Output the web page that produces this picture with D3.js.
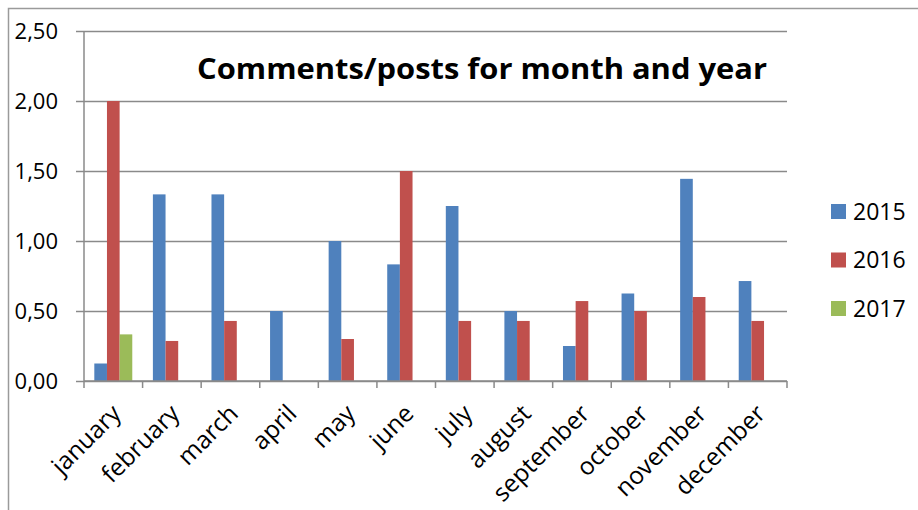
<!DOCTYPE html>
<html>
<head>
    <meta charset="utf-8">
    <style>
        body { margin: 0; background: #fff; }
        svg text { font-family: "Open Sans", "Liberation Sans", sans-serif; fill: #000; }
    </style>
    <script src="https://cdn.jsdelivr.net/npm/d3@7"></script>
</head>
<body>
<svg width="918" height="510"></svg>
<script>
    // chart data
    const months = ["january", "february", "march", "april", "may", "june",
        "july", "august", "september", "october", "november", "december"];
    const years = ["2015", "2016", "2017"];
    const values2015 = [0.125, 1.333, 1.333, 0.5, 1.0, 0.833, 1.25, 0.5, 0.25, 0.625, 1.444, 0.714];
    const values2016 = [2.0, 0.286, 0.429, 0, 0.3, 1.5, 0.429, 0.429, 0.571, 0.5, 0.6, 0.429];
    const values2017 = [0.333, 0, 0, 0, 0, 0, 0, 0, 0, 0, 0, 0];
    const yTicks = [0, 0.5, 1, 1.5, 2, 2.5];
    const colors = ["#4F81BD", "#C0504D", "#9BBB59"];
    const title = "Comments/posts for month and year";

    const series = [values2015, values2016, values2017];

    let svg = d3.select("svg");
    const plotLeft = 84, plotRight = 787, plotTop = 31, plotBottom = 381;
    const gridColor = "#8a8a8a";

    // outer chart border (left and top only visible)
    svg.append("path")
        .attr("d", "M8.5,510V8.5H918")
        .attr("fill", "none")
        .attr("stroke", "#9a9a9a")
        .attr("stroke-width", 1.5);

    let x0 = d3.scaleBand().domain(months).range([plotLeft, plotRight]).padding(0);
    let bw = x0.bandwidth();
    let inner = bw * 0.176;
    let x1 = d3.scaleBand().domain(years).range([inner, bw - inner]).padding(0);
    let y = d3.scaleLinear().domain([0, 2.5]).range([plotBottom, plotTop]);

    // gridlines + y labels
    let yAxis = d3.axisLeft(y)
        .tickValues(yTicks)
        .tickSize(-(plotRight - plotLeft + 8))
        .tickPadding(18)
        .tickFormat(d => d3.format(".2f")(d).replace(".", ","));

    let gy = svg.append("g")
        .attr("transform", "translate(" + (plotLeft - 8) + ",0)")
        .call(yAxis);
    gy.select(".domain").remove();
    gy.selectAll(".tick line").attr("stroke", gridColor).attr("stroke-width", 1.5);
    gy.selectAll(".tick text").attr("font-size", 22).attr("fill", "#000");

    // y axis line
    svg.append("line")
        .attr("x1", plotLeft).attr("x2", plotLeft)
        .attr("y1", plotTop).attr("y2", plotBottom)
        .attr("stroke", gridColor).attr("stroke-width", 1.5);

    // bars
    let groups = svg.append("g").selectAll("g")
        .data(months)
        .enter().append("g")
        .attr("transform", d => "translate(" + x0(d) + ",0)");

    groups.selectAll("rect")
        .data((m, i) => series.map((s, j) => ({year: years[j], value: s[i], color: colors[j]})))
        .enter().append("rect")
        .attr("x", d => x1(d.year))
        .attr("width", x1.bandwidth())
        .attr("y", d => y(d.value))
        .attr("height", d => plotBottom - y(d.value))
        .attr("fill", d => d.color);

    // x axis with ticks at category boundaries
    svg.append("line")
        .attr("x1", plotLeft).attr("x2", plotRight)
        .attr("y1", plotBottom).attr("y2", plotBottom)
        .attr("stroke", gridColor).attr("stroke-width", 1.5);

    let boundaries = months.map(m => x0(m)).concat([plotRight]);
    svg.append("g").selectAll("line")
        .data(boundaries)
        .enter().append("line")
        .attr("x1", d => d).attr("x2", d => d)
        .attr("y1", plotBottom).attr("y2", plotBottom + 7)
        .attr("stroke", gridColor).attr("stroke-width", 1.5);

    svg.append("g").selectAll("text")
        .data(months)
        .enter().append("text")
        .attr("transform", d => "translate(" + (x0(d) + bw / 2 + 3) + "," + (plotBottom + 28) + ") rotate(-45)")
        .attr("text-anchor", "end")
        .attr("dy", "0.35em")
        .attr("font-size", 24.5)
        .text(d => d);

    // title
    svg.append("text")
        .attr("x", 197)
        .attr("y", 79)
        .attr("font-size", 29)
        .attr("font-weight", "bold")
        .attr("textLength", 570)
        .attr("lengthAdjust", "spacingAndGlyphs")
        .text(title);

    // legend
    let legend = svg.append("g").selectAll("g")
        .data(years)
        .enter().append("g")
        .attr("transform", (d, i) => "translate(831," + (211.5 + i * 48.5) + ")");

    legend.append("rect")
        .attr("x", 0).attr("y", -7.5)
        .attr("width", 15).attr("height", 15)
        .attr("fill", (d, i) => colors[i]);

    legend.append("text")
        .attr("x", 22)
        .attr("dy", "0.35em")
        .attr("font-size", 23)
        .text(d => d);
</script>
</body>
</html>
